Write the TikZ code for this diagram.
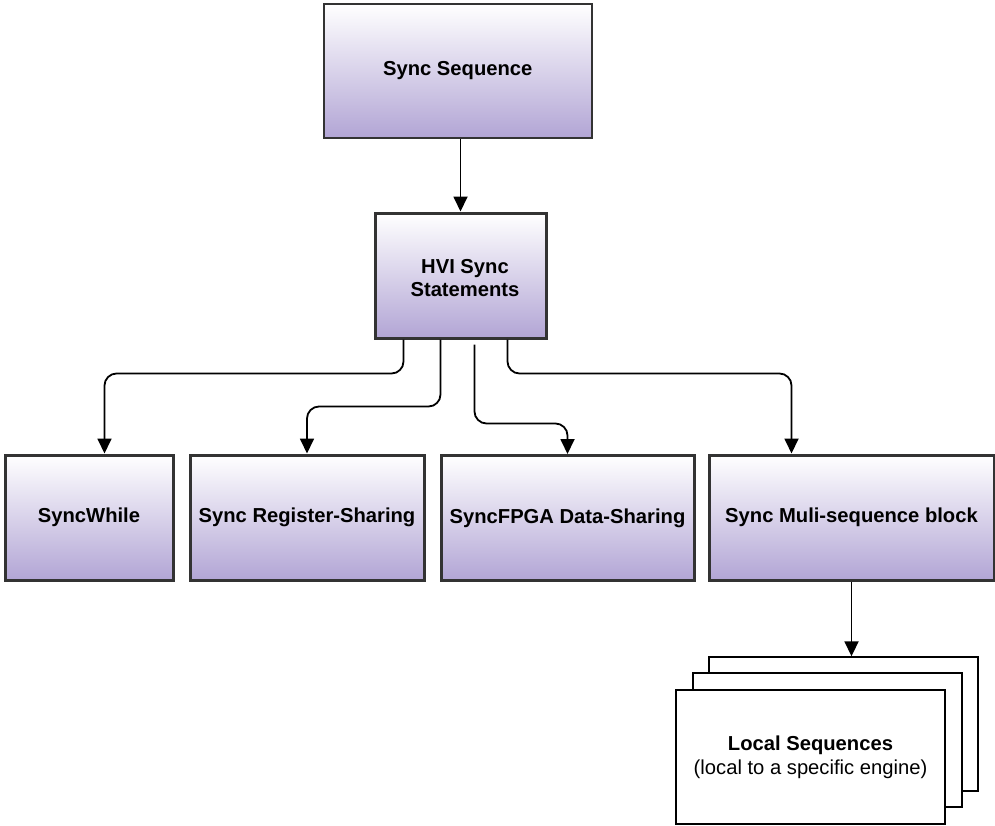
\documentclass[tikz,border=0pt]{standalone}
\usepackage{fontspec}
\setmainfont{Liberation Sans}
\usetikzlibrary{arrows.meta}
\definecolor{edgegray}{HTML}{333333}
\definecolor{lavender}{HTML}{B2A5D5}
\begin{document}
\begin{tikzpicture}[x=1pt,y=-1pt,
  box/.style={draw=edgegray, line width=3pt, top color=white, bottom color=lavender,
    minimum height=125pt, inner sep=0pt, align=center,
    font=\fontsize{20.2}{22.5}\selectfont\bfseries},
  sheet/.style={draw=black, line width=1.4pt, fill=white,
    minimum width=269pt, minimum height=134pt, inner sep=0pt},
  conn/.style={draw=black, line width=1.8pt, rounded corners=12pt,
    -{Triangle[length=15pt,width=14pt]}}]
  \useasboundingbox (0,0) rectangle (995,825);

  % top level
  \node[box, line width=2pt, minimum width=268pt, minimum height=134pt] (seq) at (457.75,71) {Sync Sequence};

  % statement group
  \node[box, minimum width=171pt] (hvi) at (460.5,275.5) {};
  \node[align=center, inner sep=0pt, font=\fontsize{20.2}{22.5}\selectfont\bfseries] (hvitext) at (465,278) {HVI Sync\\Statements};

  % statement kinds
  \node[box, minimum width=168pt] (sw) at (89,517.5) {SyncWhile};
  \node[box, minimum width=234pt] (reg) at (307,517.5) {Sync Register-Sharing};
  \node[box, minimum width=253pt] (fpga) at (567.5,518) {SyncFPGA Data-Sharing};
  \node[box, minimum width=285pt] (multi) at (851.5,517.5) {Sync Muli-sequence block};

  % stacked local sequences
  \node[sheet] (back) at (843.5,724) {};
  \node[sheet] (mid) at (827.5,740) {};
  \node[sheet, align=center, font=\fontsize{20.2}{24}\selectfont] (front) at (810.5,757)
    {\textbf{Local Sequences}\\(local to a specific engine)};

  % connectors
  \draw[conn] (hvi.north |- seq.south) -- (hvi.north);
  \draw[conn] ([xshift=30pt]hvi.south west) -- ++(0,34) -| ([xshift=101pt]sw.north west);
  \draw[conn] ([xshift=67pt]hvi.south west) -- ++(0,67) -| (reg.north);
  \draw[conn] ([xshift=101pt,yshift=-5pt]hvi.south west) -- ++(0,79) -| (fpga.north);
  \draw[conn] ([xshift=134pt]hvi.south west) -- ++(0,34) -| ([xshift=84pt]multi.north west);
  \draw[conn] (multi.south) -- (multi.south |- back.north);
\end{tikzpicture}
\end{document}
